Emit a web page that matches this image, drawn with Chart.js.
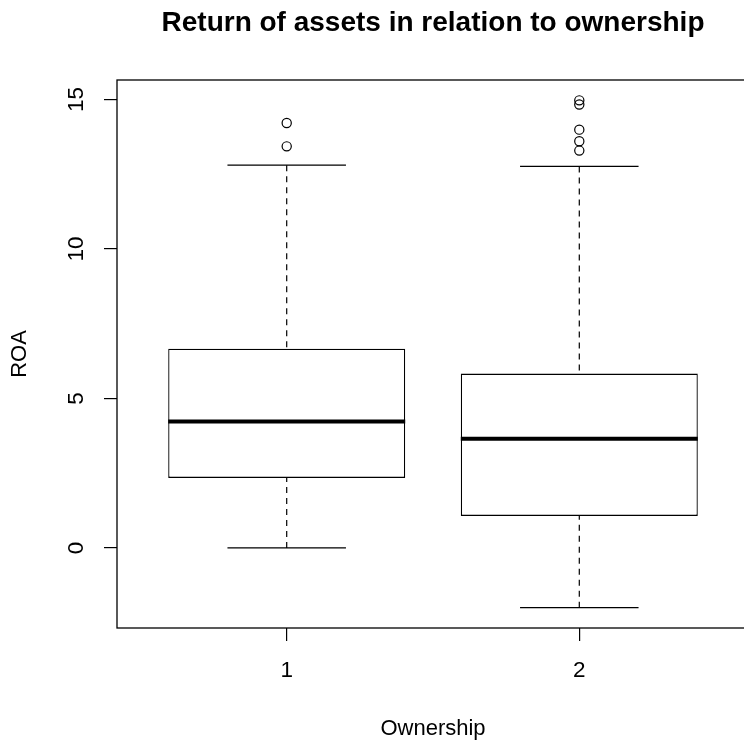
<!DOCTYPE html>
<html>
<head>
<meta charset="utf-8">
<title>ROA by ownership</title>
<script src="https://cdn.jsdelivr.net/npm/chart.js@4.4.0/dist/chart.umd.min.js"></script>
<style>
  html, body { margin: 0; padding: 0; background: #fff; overflow: hidden; }
  #wrap { width: 760px; height: 750px; }
</style>
</head>
<body>
<div id="wrap"><canvas id="roaChart" width="760" height="750"></canvas></div>
<script>
// five-number summaries per ownership group
const groups = ["1", "2"];
const groupPos = [1, 2];
const whiskerLow = [0, -2.0];
const quartile1 = [2.34, 1.07];
const medians = [4.23, 3.65];
const quartile3 = [6.66, 5.83];
const whiskerHigh = [12.8, 12.76];
const outliers = [
  [14.21, 13.43],
  [14.97, 14.83, 13.99, 13.6, 13.29]
];
const yTicks = [0, 5, 10, 15];

const FONT = "'Liberation Sans', Arial, sans-serif";
const INK = "#000";
const BOX_WIDTH = 0.81; // in x units, like boxwex

// whiskers, staples, medians and the frame around the plot
const boxParts = {
  id: "boxParts",
  afterDatasetsDraw(chart) {
    const { ctx, chartArea, scales: { x, y } } = chart;
    ctx.save();
    ctx.strokeStyle = INK;
    ctx.lineCap = "butt";
    groupPos.forEach((pos, i) => {
      const cx = x.getPixelForValue(pos);
      const capHalf = x.getPixelForValue(pos + BOX_WIDTH / 4) - cx;
      const boxHalf = x.getPixelForValue(pos + BOX_WIDTH / 2) - cx;

      ctx.lineWidth = 1.2;
      ctx.setLineDash([6, 5]);
      ctx.beginPath();
      ctx.moveTo(cx, y.getPixelForValue(whiskerHigh[i]));
      ctx.lineTo(cx, y.getPixelForValue(quartile3[i]));
      ctx.moveTo(cx, y.getPixelForValue(whiskerLow[i]));
      ctx.lineTo(cx, y.getPixelForValue(quartile1[i]));
      ctx.stroke();
      ctx.setLineDash([]);

      ctx.beginPath();
      [whiskerHigh[i], whiskerLow[i]].forEach((v) => {
        const py = y.getPixelForValue(v);
        ctx.moveTo(cx - capHalf, py);
        ctx.lineTo(cx + capHalf, py);
      });
      ctx.stroke();

      ctx.lineWidth = 4;
      ctx.beginPath();
      const my = y.getPixelForValue(medians[i]);
      ctx.moveTo(cx - boxHalf, my);
      ctx.lineTo(cx + boxHalf, my);
      ctx.stroke();
    });
    ctx.lineWidth = 1.3;
    ctx.strokeRect(chartArea.left, chartArea.top,
      chartArea.right - chartArea.left, chartArea.bottom - chartArea.top);
    ctx.restore();
  }
};

const boxData = groupPos.map((pos, i) => ({ x: pos, y: [quartile1[i], quartile3[i]] }));
const outlierData = [];
outliers.forEach((list, i) => {
  list.forEach((v) => outlierData.push({ x: groupPos[i], y: v }));
});

new Chart(document.getElementById("roaChart"), {
  type: "bar",
  data: {
    datasets: [
      {
        type: "bar",
        data: boxData,
        backgroundColor: "#fff",
        borderColor: INK,
        borderWidth: 1.3,
        borderSkipped: false,
        barPercentage: 1,
        categoryPercentage: BOX_WIDTH
      },
      {
        type: "scatter",
        data: outlierData,
        showLine: false,
        pointStyle: "circle",
        pointRadius: 4.6,
        pointBorderWidth: 1.2,
        pointBorderColor: INK,
        pointBackgroundColor: "rgba(0,0,0,0)"
      }
    ]
  },
  plugins: [boxParts],
  options: {
    responsive: false,
    animation: false,
    events: [],
    layout: { padding: { left: 0, right: 11, top: 0, bottom: 0 } },
    plugins: {
      legend: { display: false },
      tooltip: { enabled: false },
      title: {
        display: true,
        fullSize: false,
        text: "Return of assets in relation to ownership",
        color: INK,
        font: { family: FONT, size: 28, weight: "bold" },
        padding: { top: 6.5, bottom: 39.9 }
      }
    },
    scales: {
      x: {
        type: "linear",
        min: 0.42,
        max: 2.58,
        offset: false,
        afterBuildTicks: (s) => { s.ticks = groupPos.map((v) => ({ value: v })); },
        afterFit: (s) => { s.height = 122; },
        border: { display: false },
        grid: { offset: false, drawOnChartArea: false, drawTicks: true, tickLength: 13, color: INK, lineWidth: 1.2 },
        ticks: {
          padding: 16,
          color: INK,
          font: { family: FONT, size: 22.5 },
          callback: (v) => groups[groupPos.indexOf(v)]
        },
        title: {
          display: true,
          text: "Ownership",
          color: INK,
          font: { family: FONT, size: 22 },
          padding: { top: 0, bottom: 8 }
        }
      },
      y: {
        type: "linear",
        min: -2.68,
        max: 15.65,
        afterBuildTicks: (s) => { s.ticks = yTicks.map((v) => ({ value: v })); },
        afterFit: (s) => { s.width = 117; },
        border: { display: false },
        grid: { drawOnChartArea: false, drawTicks: true, tickLength: 13, color: INK, lineWidth: 1.2 },
        ticks: {
          padding: 15,
          minRotation: 90,
          maxRotation: 90,
          crossAlign: "center",
          color: INK,
          font: { family: FONT, size: 22.5 }
        },
        title: {
          display: true,
          text: "ROA",
          color: INK,
          font: { family: FONT, size: 22 },
          padding: { top: 6.5, bottom: 0 }
        }
      }
    }
  }
});
</script>
</body>
</html>
